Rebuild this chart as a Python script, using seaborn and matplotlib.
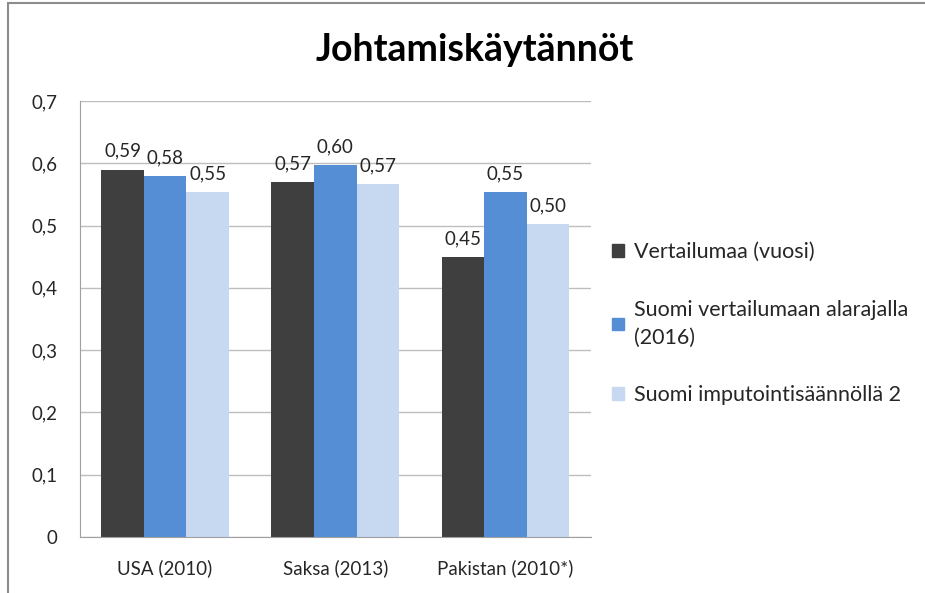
import matplotlib
matplotlib.use("Agg")
import matplotlib.pyplot as plt
import matplotlib.patches as mpatches
from matplotlib.ticker import FuncFormatter, FixedLocator
import seaborn as sns
import pandas as pd

# arvot luettu kuvasta
categories = ['USA (2010)', 'Saksa (2013)', 'Pakistan (2010*)']
series = ['Vertailumaa (vuosi)',
          'Suomi vertailumaan alarajalla\n(2016)',
          'Suomi imputointisäännöllä 2']
vertailumaa = [0.59, 0.57, 0.45]
suomi_alaraja = [0.58, 0.597, 0.554]
suomi_imput = [0.554, 0.567, 0.502]
colors = ['#3F3F3F', '#558ED5', '#C6D9F1']

df = pd.DataFrame({
    'maa': categories * 3,
    'sarja': [s for s in series for _ in categories],
    'arvo': vertailumaa + suomi_alaraja + suomi_imput,
})

sns.set_style("white")
plt.rcParams['font.family'] = ['Lato', 'DejaVu Sans']

fig = plt.figure(figsize=(9.25, 5.93), dpi=100)
ax = fig.add_axes([0.0865, 0.0944, 0.552, 0.7353])

sns.barplot(data=df, x='maa', y='arvo', hue='sarja', palette=colors,
            width=0.75, gap=0, saturation=1, linewidth=0, ax=ax, legend=False)

# arvot palkkien päälle
for cont in ax.containers:
    labs = [f"{b.get_height():.2f}".replace('.', ',') for b in cont]
    ax.bar_label(cont, labels=labs, padding=7, fontsize=13.5, color='#262626')

ax.set_ylim(0, 0.7)
ax.set_xlim(-0.5, 2.5)
ax.set_yticks([i / 10 for i in range(8)])
ax.yaxis.set_major_formatter(FuncFormatter(
    lambda v, p: '0' if v == 0 else f"{v:.1f}".replace('.', ',')))
ax.xaxis.set_major_locator(FixedLocator([0, 1, 2]))
ax.xaxis.set_minor_locator(FixedLocator([-0.5, 0.5, 1.5, 2.5]))
ax.tick_params(axis='x', which='major', length=0, pad=16, labelsize=13.5, colors='#262626')
ax.tick_params(axis='x', which='minor', length=6, color='#A0A0A0', direction='out')
ax.tick_params(axis='y', length=5, direction='out', labelsize=13.5,
               colors='#262626', pad=11)
ax.tick_params(axis='y', color='#A0A0A0')
ax.set_xlabel('')
ax.set_ylabel('')
ax.grid(axis='y', color='#BEBEBE', lw=1)
ax.set_axisbelow(True)
for s in ['top', 'right']:
    ax.spines[s].set_visible(False)
ax.spines['left'].set_color('#A0A0A0')
ax.spines['bottom'].set_color('#A0A0A0')

fig.text(0.513, 0.915, 'Johtamiskäytännöt', ha='center', va='center',
         fontsize=27, fontweight='bold', color='black')

handles = [mpatches.Patch(color=c) for c in colors]
leg = fig.legend(handles, series, loc='upper left', bbox_to_anchor=(0.662, 0.592),
                 frameon=False, fontsize=15.5, handlelength=0.55, handleheight=0.55,
                 handletextpad=0.45, labelspacing=1.75, borderpad=0, borderaxespad=0,
                 labelcolor='#262626')
for t in leg.get_texts():
    t.set_linespacing(1.5)

# kehys
fig.patches.append(mpatches.Rectangle((8 / 925, -0.1), 2, 1.1 - 3 / 593,
                                      transform=fig.transFigure, fill=False,
                                      edgecolor='#8C8C8C', lw=1.5))

plt.savefig('out.png', dpi=100)
